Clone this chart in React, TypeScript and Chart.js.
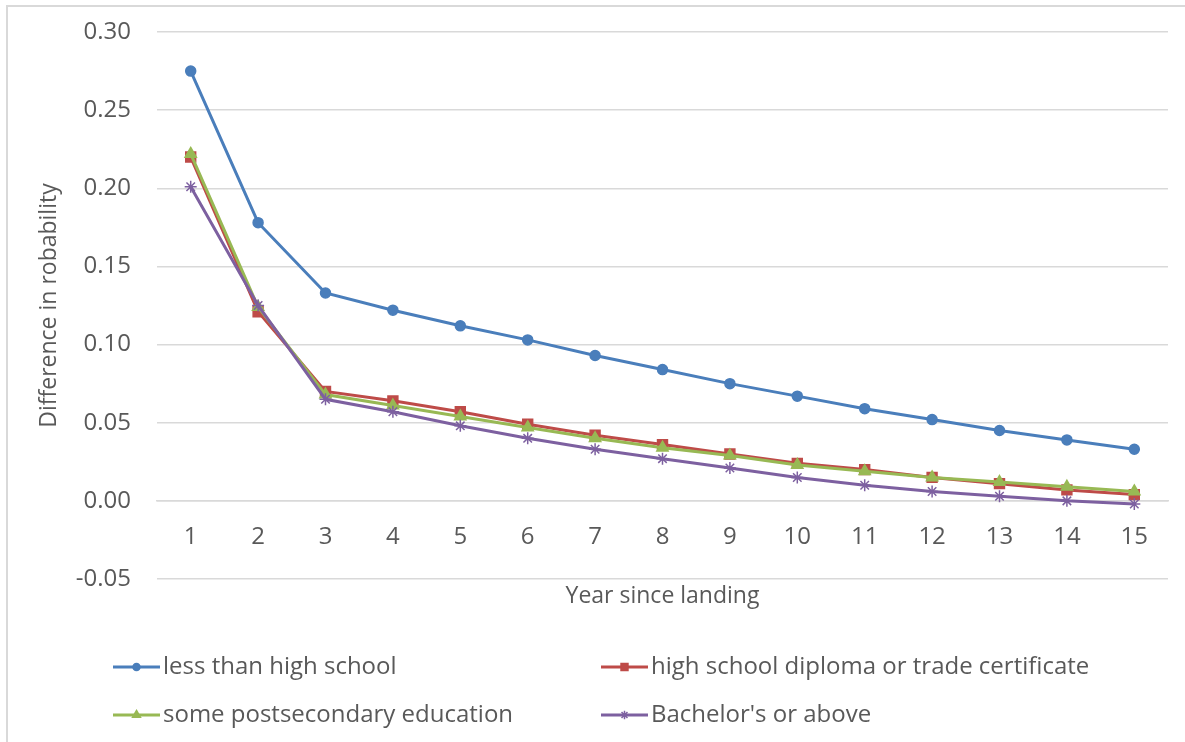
import React, { useEffect, useRef } from 'react';
import { Chart, registerables } from 'chart.js';
import { drawPoint } from 'chart.js/helpers';

Chart.register(...registerables);

// Years since landing (category axis)
const years = ['1', '2', '3', '4', '5', '6', '7', '8', '9', '10', '11', '12', '13', '14', '15'];

// Difference in probability by education level
const lessThanHighSchool = [0.275, 0.178, 0.133, 0.122, 0.112, 0.103, 0.093, 0.084, 0.075, 0.067, 0.059, 0.052, 0.045, 0.039, 0.033];
const highSchoolDiploma = [0.220, 0.121, 0.070, 0.064, 0.057, 0.049, 0.042, 0.036, 0.030, 0.024, 0.020, 0.015, 0.011, 0.007, 0.004];
const somePostsecondary = [0.222, 0.124, 0.068, 0.061, 0.054, 0.047, 0.040, 0.034, 0.029, 0.023, 0.019, 0.015, 0.012, 0.009, 0.006];
const bachelorsOrAbove = [0.201, 0.125, 0.065, 0.057, 0.048, 0.040, 0.033, 0.027, 0.021, 0.015, 0.010, 0.006, 0.003, 0.000, -0.002];

const seriesLabels = [
  'less than high school',
  'high school diploma or trade certificate',
  'some postsecondary education',
  "Bachelor's or above",
];

// Value axis range
const yMin = -0.05;
const yMax = 0.30;
const yStep = 0.05;

const FONT = '"Open Sans", Lato, "DejaVu Sans", sans-serif';
const TEXT = '#595959';
const GRID = '#d9d9d9';

// Two-column legend drawn under the plot
const gridLegend = {
  id: 'gridLegend',
  afterDraw(chart: any, _args: any, opts: any) {
    const ctx = chart.ctx as CanvasRenderingContext2D;
    ctx.save();
    chart.data.datasets.forEach((ds: any, i: number) => {
      const x = opts.columns[i % 2];
      const y = opts.rows[Math.floor(i / 2)];
      ctx.strokeStyle = ds.borderColor;
      ctx.lineWidth = ds.borderWidth;
      ctx.lineCap = 'butt';
      ctx.beginPath();
      ctx.moveTo(x, y);
      ctx.lineTo(x + opts.lineLength, y);
      ctx.stroke();
      ctx.fillStyle = ds.pointBackgroundColor;
      ctx.strokeStyle = ds.pointBorderColor;
      ctx.lineWidth = 1.5;
      drawPoint(ctx, { pointStyle: ds.pointStyle, radius: ds.pointRadius * 0.7, rotation: 0, borderWidth: 1.5 } as any, x + opts.lineLength / 2, y);
      ctx.fillStyle = TEXT;
      ctx.font = `${opts.fontSize}px ${FONT}`;
      ctx.textBaseline = 'middle';
      ctx.textAlign = 'left';
      ctx.fillText(ds.label, x + opts.lineLength + 3, y);
    });
    ctx.restore();
  },
};

export default function App() {
  const canvasRef = useRef<HTMLCanvasElement | null>(null);

  useEffect(() => {
    if (!canvasRef.current) return;
    const mk = (label: string, data: number[], color: string, style: string, radius: number, order: number) => ({
      label,
      data,
      xAxisID: 'x',
      yAxisID: 'y',
      borderColor: color,
      backgroundColor: color,
      pointBackgroundColor: color,
      pointBorderColor: color,
      borderWidth: 3,
      pointStyle: style,
      pointRadius: radius,
      pointBorderWidth: 1.5,
      tension: 0,
      order,
    });

    const chart = new Chart(canvasRef.current, {
      type: 'line',
      data: {
        labels: years,
        datasets: [
          mk(seriesLabels[0], lessThanHighSchool, '#4A7EBB', 'circle', 5, 3),
          mk(seriesLabels[1], highSchoolDiploma, '#BE4B48', 'rect', 7, 2),
          mk(seriesLabels[2], somePostsecondary, '#98B954', 'triangle', 6.5, 1),
          mk(seriesLabels[3], bachelorsOrAbove, '#7D60A0', 'star', 6, 0),
        ] as any,
      },
      options: {
        animation: false,
        responsive: false,
        devicePixelRatio: 1,
        layout: { padding: { top: 32, right: 17, bottom: 129, left: 0 } },
        plugins: {
          legend: { display: false },
          tooltip: { enabled: false },
          gridLegend: { columns: [113, 601], rows: [667, 715], lineLength: 47, fontSize: 24 },
        } as any,
        scales: {
          x: {
            type: 'category',
            axis: 'x',
            position: { y: 0 } as any,
            offset: true,
            grid: { display: false, drawTicks: false },
            border: { display: true, color: GRID, width: 1.5 },
            ticks: { color: TEXT, padding: 22, font: { family: FONT, size: 24 }, maxRotation: 0, autoSkip: false },
          },
          xTitle: {
            type: 'category',
            axis: 'x',
            position: 'bottom',
            grid: { display: false, drawTicks: false },
            border: { display: false },
            ticks: { display: false },
            title: {
              display: true,
              text: 'Year since landing',
              color: TEXT,
              font: { family: FONT, size: 23 },
              padding: { top: 0, bottom: 3 },
            },
            afterFit: (scale: any) => { scale.height = 34; },
          },
          y: {
            type: 'linear',
            position: 'left',
            min: yMin,
            max: yMax,
            // invisible tick marks keep the labels clear of the plot without padding the top
            grid: { color: GRID, lineWidth: 1.5, drawTicks: true, tickLength: 26, tickColor: 'rgba(0,0,0,0)' },
            border: { display: false },
            ticks: {
              stepSize: yStep,
              color: TEXT,
              padding: 0,
              font: { family: FONT, size: 24 },
              callback: (v: any) => (Math.abs(Number(v)) < 1e-9 ? 0 : Number(v)).toFixed(2),
            },
            title: {
              display: true,
              text: 'Difference in robability',
              color: TEXT,
              font: { family: FONT, size: 23 },
              padding: { top: 36, bottom: 0 },
            },
            afterFit: (scale: any) => { scale.width = 157; },
          },
        } as any,
      },
      plugins: [gridLegend],
    });
    return () => chart.destroy();
  }, []);

  return (
    <div style={{ position: 'fixed', left: 0, top: 0, width: 1185, height: 742, background: '#fff', overflow: 'hidden' }}>
      <div style={{ position: 'absolute', left: 6, top: 5, width: 1300, height: 900, border: `2px solid ${GRID}` }} />
      <canvas ref={canvasRef} width={1185} height={742} style={{ position: 'absolute', left: 0, top: 0 }} />
    </div>
  );
}
